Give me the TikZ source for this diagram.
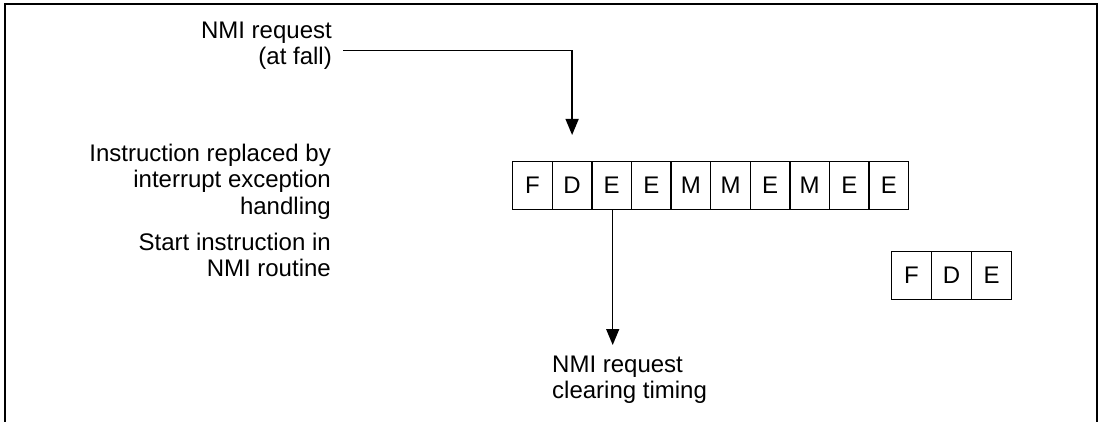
\documentclass[tikz,border=0pt]{standalone}
\usepackage{fontspec}
\setmainfont{Liberation Sans}
\usetikzlibrary{arrows.meta}
\begin{document}
\begin{tikzpicture}[x=1pt,y=-1pt,
  lbl/.style={inner sep=0pt, font=\fontsize{24}{26}\selectfont},
  cell/.style={draw, line width=1.4pt, minimum width=39.6pt, minimum height=48pt, inner sep=0pt, anchor=north west, font=\fontsize{24}{26}\selectfont},
  conn/.style={line width=1.4pt, -{Triangle[length=16pt,width=13pt]}},
  frame/.style={line width=2pt}]
\useasboundingbox (0,0) rectangle (1102,422);
\draw[frame] (5,422) -- (5,4) -- (1097,4) -- (1097,422);
% left labels (anchor at baseline of last line)
\node[lbl, align=right, anchor=base east] (nmi) at (332,65) {NMI request\\(at fall)};
\node[lbl, align=right, anchor=base east] (repl) at (331,214) {Instruction replaced by\\interrupt exception\\handling};
\node[lbl, align=right, anchor=base east] (start) at (331,276) {Start instruction in\\NMI routine};
% pipeline cells
\foreach \t [count=\i] in {F,D,E,E,M,M,E,M,E,E} {
  \node[cell] (b\i) at ({512+(\i-1)*39.6},161) {\t};
}
\foreach \t [count=\i] in {F,D,E} {
  \node[cell] (s\i) at ({891+(\i-1)*40},251) {\t};
}
% bottom label
\node[lbl, align=left, anchor=base west] (clr) at (552,398) {NMI request\\clearing timing};
% connectors
\coordinate (topstart) at ([xshift=11pt,yshift=14.3pt]nmi.base east);
\draw[conn, shorten >=26pt] (topstart) -| (b2.north);
\draw[conn] ([xshift=1pt]b3.south) -- ([xshift=1pt]b3.south |- 0,345);
\end{tikzpicture}
\end{document}
